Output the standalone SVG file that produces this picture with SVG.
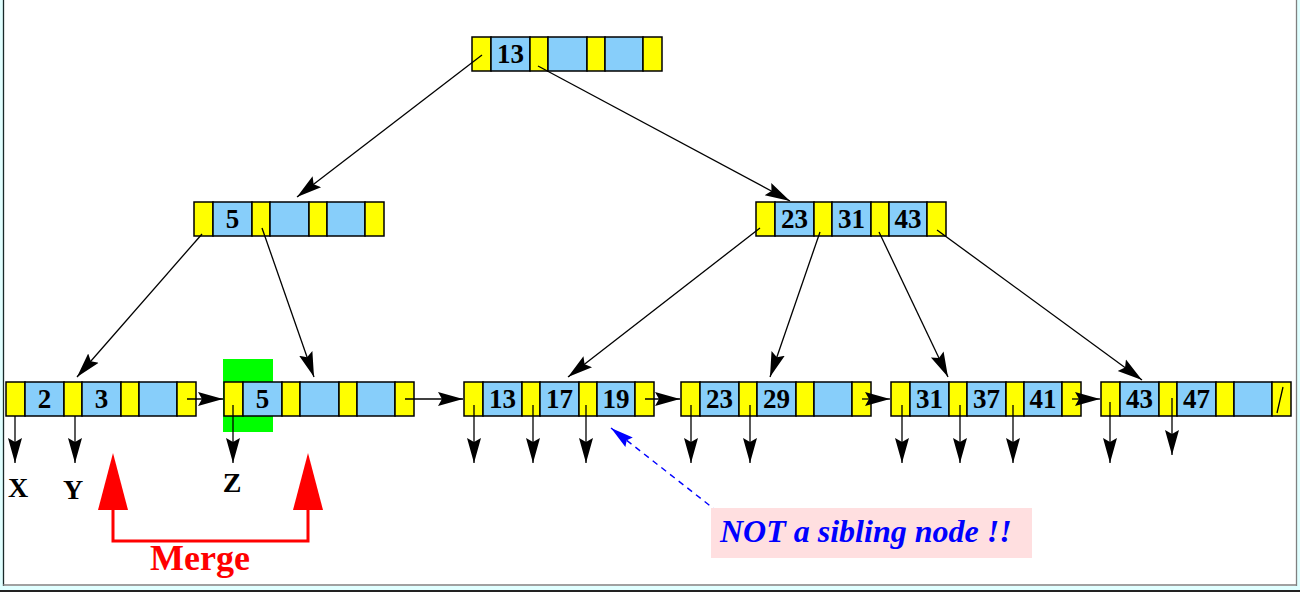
<svg xmlns="http://www.w3.org/2000/svg" xmlns:xlink="http://www.w3.org/1999/xlink" width="1300" height="592" viewBox="0 0 1300 592">
<style>
.y{fill:#ffff00;stroke:#000;stroke-width:1.5}
.b{fill:#87cefa;stroke:#000;stroke-width:1.5}
.k{font-family:"Liberation Serif","Times New Roman",serif;font-weight:bold;font-size:27px;fill:#000;text-anchor:middle}
.l{font-family:"Liberation Serif","Times New Roman",serif;font-weight:bold;font-size:28px;fill:#000;text-anchor:middle}
.c{stroke:#000;stroke-width:1.3;fill:none;marker-end:url(#ah)}
.red{stroke:#ff0000;stroke-width:3;fill:none}
</style>
<defs>
<marker id="ah" markerWidth="26" markerHeight="18" viewBox="0 0 26 18" refX="25" refY="9" orient="auto" markerUnits="userSpaceOnUse">
<path d="M0,2 L25,9 L0,16 L4,9 z" fill="#000"/>
</marker>
<marker id="bh" markerWidth="24" markerHeight="16" viewBox="0 0 24 16" refX="23" refY="8" orient="auto" markerUnits="userSpaceOnUse">
<path d="M0,2 L23,8 L0,14 L3,8 z" fill="#0000ff"/>
</marker>
<g id="node">
<rect class="y" x="0" y="0" width="19" height="34"/>
<rect class="b" x="19" y="0" width="39" height="34"/>
<rect class="y" x="58" y="0" width="18" height="34"/>
<rect class="b" x="76" y="0" width="39" height="34"/>
<rect class="y" x="115" y="0" width="18" height="34"/>
<rect class="b" x="133" y="0" width="38" height="34"/>
<rect class="y" x="171" y="0" width="19" height="34"/>
</g>
</defs>
<rect x="0" y="0" width="1300" height="592" fill="#ffffff"/>
<rect x="0" y="0" width="3" height="592" fill="#e0ffff"/>
<rect x="1297" y="0" width="3" height="592" fill="#e0ffff"/>
<rect x="0" y="586" width="1300" height="4" fill="#e0ffff"/>
<rect x="0" y="590" width="1300" height="2" fill="#222222"/>
<line x1="3.5" y1="0" x2="3.5" y2="586" stroke="#1a2a2a" stroke-width="1.3"/>
<line x1="1296.5" y1="0" x2="1296.5" y2="586" stroke="#808080" stroke-width="1.3"/>
<line x1="3" y1="585" x2="1297" y2="585" stroke="#808080" stroke-width="1.3"/>

<rect id="highlight" x="223" y="359" width="50" height="73" fill="#00ff00"/>

<g id="root">
<use xlink:href="#node" href="#node" x="472" y="37"/>
<text class="k" x="510.5" y="63">13</text>
</g>
<g id="inner-left">
<use xlink:href="#node" href="#node" x="194" y="202"/>
<text class="k" x="232.5" y="228">5</text>
</g>
<g id="inner-right">
<use xlink:href="#node" href="#node" x="756" y="202"/>
<text class="k" x="794.5" y="228">23</text>
<text class="k" x="851.5" y="228">31</text>
<text class="k" x="908" y="228">43</text>
</g>
<g id="leaf1">
<use xlink:href="#node" href="#node" x="6" y="382"/>
<text class="k" x="44.5" y="408">2</text>
<text class="k" x="101.5" y="408">3</text>
</g>
<g id="leaf2">
<use xlink:href="#node" href="#node" x="224" y="382"/>
<text class="k" x="262.5" y="408">5</text>
</g>
<g id="leaf3">
<use xlink:href="#node" href="#node" x="464" y="382"/>
<text class="k" x="502.5" y="408">13</text>
<text class="k" x="559.5" y="408">17</text>
<text class="k" x="616" y="408">19</text>
</g>
<g id="leaf4">
<use xlink:href="#node" href="#node" x="681" y="382"/>
<text class="k" x="719.5" y="408">23</text>
<text class="k" x="776.5" y="408">29</text>
</g>
<g id="leaf5">
<use xlink:href="#node" href="#node" x="891" y="382"/>
<text class="k" x="929.5" y="408">31</text>
<text class="k" x="986.5" y="408">37</text>
<text class="k" x="1043" y="408">41</text>
</g>
<g id="leaf6">
<use xlink:href="#node" href="#node" x="1101" y="382"/>
<text class="k" x="1139.5" y="408">43</text>
<text class="k" x="1196.5" y="408">47</text>
<line x1="1283" y1="387" x2="1277" y2="413" stroke="#000" stroke-width="1.3"/>
</g>

<g id="connectors">
<line class="c" x1="482" y1="55" x2="297" y2="197"/>
<line class="c" x1="538" y1="66" x2="790" y2="201"/>
<line class="c" x1="202" y1="234" x2="77" y2="377"/>
<line class="c" x1="262" y1="228" x2="314" y2="377"/>
<line class="c" x1="760" y1="228" x2="568" y2="377"/>
<line class="c" x1="820" y1="232" x2="770" y2="377"/>
<line class="c" x1="879" y1="232" x2="948" y2="377"/>
<line class="c" x1="937" y1="230" x2="1142" y2="380"/>
<line class="c" x1="187" y1="399" x2="223" y2="399"/>
<line class="c" x1="405" y1="399" x2="463" y2="399"/>
<line class="c" x1="645" y1="399" x2="680" y2="399"/>
<line class="c" x1="862" y1="399" x2="890" y2="399"/>
<line class="c" x1="1072" y1="399" x2="1100" y2="399"/>
<line class="c" x1="15" y1="416" x2="15" y2="463"/>
<line class="c" x1="75" y1="416" x2="75" y2="463"/>
<line class="c" x1="233" y1="405" x2="233" y2="463"/>
<line class="c" x1="474" y1="405" x2="474" y2="463"/>
<line class="c" x1="533" y1="405" x2="533" y2="463"/>
<line class="c" x1="586" y1="405" x2="586" y2="463"/>
<line class="c" x1="691" y1="405" x2="691" y2="463"/>
<line class="c" x1="750" y1="405" x2="750" y2="463"/>
<line class="c" x1="902" y1="405" x2="902" y2="463"/>
<line class="c" x1="960" y1="405" x2="960" y2="463"/>
<line class="c" x1="1013" y1="405" x2="1013" y2="463"/>
<line class="c" x1="1110" y1="402" x2="1110" y2="463"/>
<line class="c" x1="1172" y1="398" x2="1172" y2="455"/>
<line x1="718" y1="512" x2="611" y2="428" stroke="#0000ff" stroke-width="1.4" stroke-dasharray="6,5" marker-end="url(#bh)"/>
</g>

<g id="pointer-labels">
<text class="l" x="18" y="497">X</text>
<text class="l" x="73" y="499">Y</text>
<text class="l" x="232" y="492">Z</text>
</g>

<g id="merge">
<polygon points="113,453 98,510 128,510" fill="#ff0000"/>
<polygon points="308,453 293,510 323,510" fill="#ff0000"/>
<polyline class="red" points="113,509 113,541 308,541 308,509"/>
<text x="200" y="570" font-family="Liberation Serif,Times New Roman,serif" font-weight="bold" font-size="36" fill="#ff0000" text-anchor="middle">Merge</text>
</g>

<g id="note">
<rect x="711" y="508" width="321" height="50" fill="#ffdfe0"/>
<text x="720" y="542" font-family="Liberation Serif,Times New Roman,serif" font-weight="bold" font-style="italic" font-size="32" fill="#0000ff">NOT a sibling node !!</text>
</g>
</svg>
